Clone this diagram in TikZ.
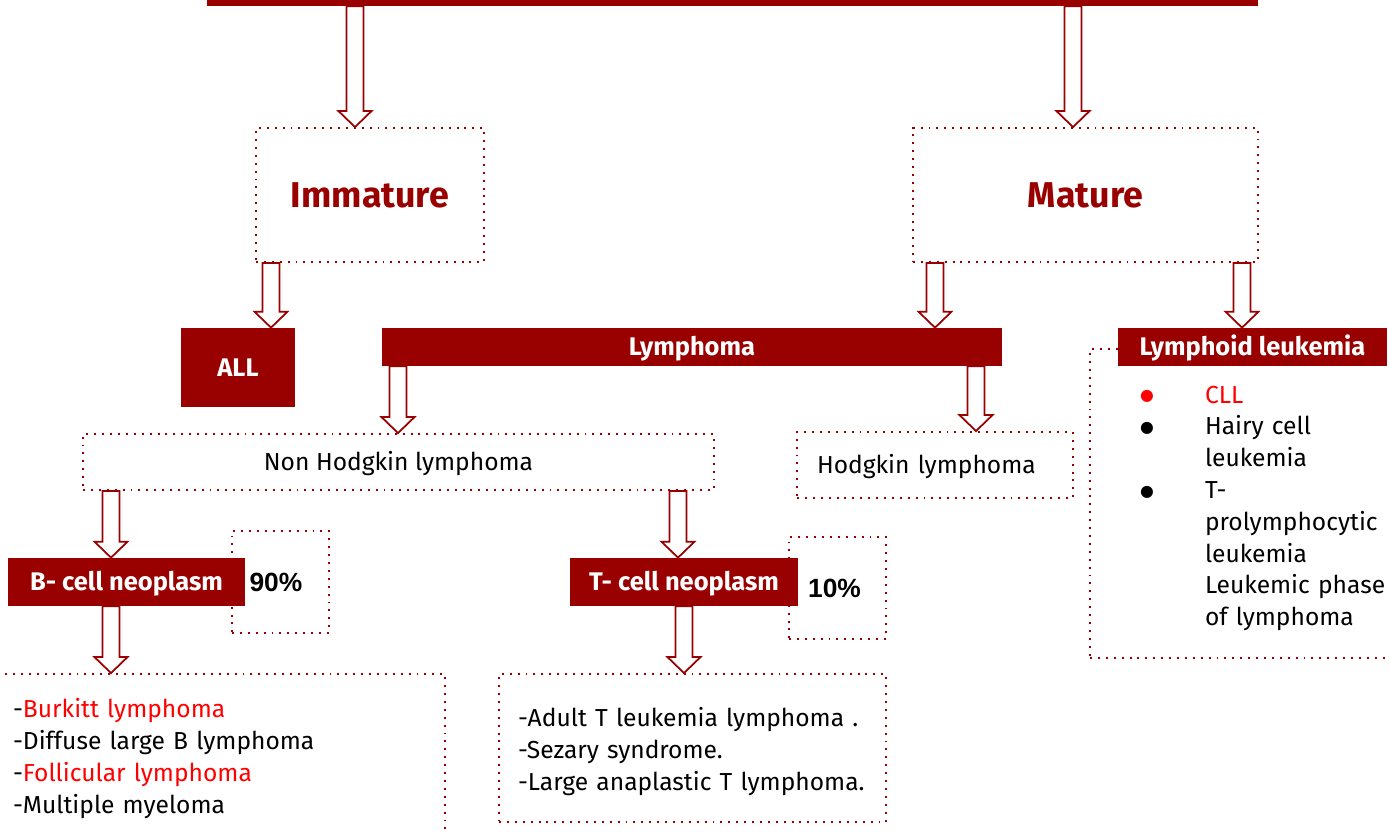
\documentclass[tikz,border=0pt]{standalone}
\usepackage{fontspec}
\setmainfont{Fira Sans}
\newfontfamily\pctfont{Liberation Sans}
\newfontfamily\symfont{DejaVu Sans}
\usetikzlibrary{calc}
\definecolor{cdark}{HTML}{990000}
\definecolor{cred}{HTML}{FF0000}
\newcommand{\dotitem}{\hspace{-1.6pt}\raisebox{1.2pt}{\symfont\fontsize{9}{12}\selectfont ●}}
\tikzset{
  every picture/.style={x=0.02cm, y=-0.02cm},
  txt/.style={font=\fontsize{14}{18.1}\selectfont},
  oneline/.style={text height=#1, text depth=0pt},
  oneline/.default=9.65pt,
  fillbox/.style={fill=cdark, text=white, inner sep=0pt, oneline=10pt, font=\fontsize{14.5}{18}\selectfont\bfseries},
  dotbox/.style={draw=cdark, line width=1.1pt, dash pattern=on 1.1pt off 3.4pt, inner sep=0pt},
  headtxt/.style={text=cdark, oneline=14.06pt, font=\fontsize{20.4}{24}\selectfont\bfseries},
  pct/.style={font=\fontsize{15}{18}\selectfont\pctfont\bfseries},
  blockarrow/.style={draw=cdark, fill=white, line width=1pt, to path={
    let \p1=(\tikztostart), \p2=(\tikztotarget) in
    ({\x1-4.8pt},\y1) -- ({\x1-4.8pt},{\y2+9.1pt}) -- ({\x1-9.4pt},{\y2+9.1pt}) -- (\x1,\y2)
    -- ({\x1+9.4pt},{\y2+9.1pt}) -- ({\x1+4.8pt},{\y2+9.1pt}) -- ({\x1+4.8pt},\y1) -- cycle}},
}

\begin{document}
\begin{tikzpicture}
  \useasboundingbox (0,0) rectangle (1389,832);
  % top level and the two branches
  \node[fillbox, minimum width=21.02cm, minimum height=0.92cm] (root) at (732.5,-17) {};
  \node[dotbox, headtxt, minimum width=4.56cm, minimum height=2.68cm] (imm) at (370,195) {Immature};
  \node[dotbox, headtxt, minimum width=6.9cm, minimum height=2.68cm] (mat) at (1085.5,195) {Mature};
  \node[fillbox, minimum width=2.28cm, minimum height=1.58cm] (all) at (238,367.5) {ALL};
  \node[fillbox, minimum width=12.4cm, minimum height=0.76cm] (lym) at (692,347) {Lymphoma};
  % lymphoid leukemia with its list
  \node[dotbox, txt, minimum width=6.2cm, minimum height=6.18cm, text width=4.08cm, inner xsep=1.06cm, align=left] (leukbox) at (1245,503.5) {%
    \begin{tabular}{@{}p{1.24cm}@{}l@{}}
      \textcolor{cred}{\dotitem} & \textcolor{cred}{CLL}\rule{0pt}{17.8pt}\\
      \dotitem & Hairy cell\\
       & leukemia\\
      \dotitem & T-\\
       & prolymphocytic\\
       & leukemia\\
       & Leukemic phase\\
       & of lymphoma
    \end{tabular}};
  \node[fillbox, minimum width=5.38cm, minimum height=0.76cm] (leuk) at (1252.5,347) {Lymphoid leukemia};
  % lymphoma split
  \node[dotbox, txt, oneline, minimum width=12.62cm, minimum height=1.12cm] (nhl) at (398.5,462) {Non Hodgkin lymphoma};
  \node[dotbox, txt, oneline, minimum width=5.52cm, minimum height=1.32cm, inner xsep=0.4cm, text width=4.72cm, align=left] (hod) at (935,465) {Hodgkin lymphoma};
  \node[dotbox, pct, minimum width=1.94cm, minimum height=2.04cm] (p90) at (280.5,582) {\hspace{-5.2pt}90\%};
  \node[fillbox, minimum width=4.74cm, minimum height=0.96cm] (bcell) at (126.5,582) {B- cell neoplasm};
  \node[dotbox, pct, minimum width=1.94cm, minimum height=2.04cm] (p10) at (837.5,588) {\hspace{-3.4pt}10\%};
  \node[fillbox, minimum width=4.56cm, minimum height=0.96cm] (tcell) at (684,582) {T- cell neoplasm};
  \node[dotbox, txt, minimum width=9cm, minimum height=3.28cm, inner xsep=0.36cm, text width=8.28cm, align=left] (blist) at (220,756) {%
    \rule{0pt}{13.6pt}-\textcolor{cred}{Burkitt lymphoma}\\
    -Diffuse large B lymphoma\\
    -\textcolor{cred}{Follicular lymphoma}\\
    -Multiple myeloma};
  \node[dotbox, txt, minimum width=7.74cm, minimum height=2.96cm, inner xsep=0.38cm, text width=6.98cm, align=left] (tlist) at (692.5,748) {%
    \rule{0pt}{14.8pt}-Adult T leukemia lymphoma .\\
    -Sezary syndrome.\\
    -Large anaplastic T lymphoma.};
  % block arrows
  \draw[blockarrow] (355,0 |- root.south) to (imm.north);
  \draw[blockarrow] (1073,0 |- root.south) to (mat.north);
  \draw[blockarrow] (271,0 |- imm.south) to (all.north);
  \draw[blockarrow] (935,0 |- mat.south) to (lym.north);
  \draw[blockarrow] (1242,0 |- mat.south) to (leuk.north);
  \draw[blockarrow] (398,0 |- lym.south) to (nhl.north);
  \draw[blockarrow] (976,0 |- lym.south) to (hod.north);
  \draw[blockarrow] (111,0 |- nhl.south) to (bcell.north);
  \draw[blockarrow] (678,0 |- nhl.south) to (tcell.north);
  \draw[blockarrow] (111,0 |- bcell.south) to (blist.north);
  \draw[blockarrow] (684,0 |- tcell.south) to (tlist.north);
\end{tikzpicture}
\end{document}
